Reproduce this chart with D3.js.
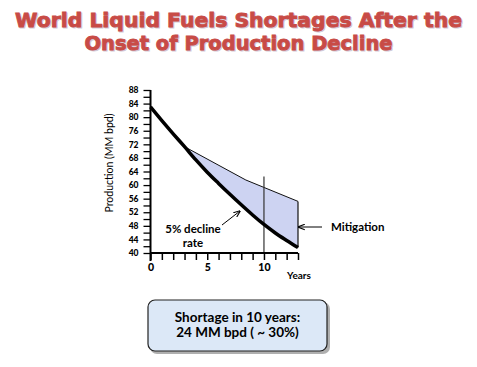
<!DOCTYPE html>
<html><head><meta charset="utf-8">
<script src="https://cdn.jsdelivr.net/npm/d3@7/dist/d3.min.js"></script>
<style>body{margin:0;background:#fff}svg{display:block}</style>
</head><body>
<script>
const titleLines = ["World Liquid Fuels Shortages After the", "Onset of Production Decline"];
const years = [0,1,2,3,4,5,6,7,8,9,10,11,12,13];
const decline = [83,79,75.1,71.3,67.4,63.8,60.5,57.3,54.2,51.2,48.4,45.9,43.7,41.6];
const mitigationYears = [3, 8.4, 13];
const mitigationVals = [71.3, 61.5, 55.2];
const yTickLabels = [40,44,48,52,56,60,64,68,72,76,80,84,88];
const xTickLabels = [0,5,10];
const boxLines = ["Shortage in 10 years:", "24 MM bpd ( ~ 30%)"];

const W=477,H=367;
const svg=d3.select("body").append("svg").attr("width",W).attr("height",H);
const x=d3.scaleLinear().domain([0,13]).range([150.5,298]);
const y=d3.scaleLinear().domain([40,88]).range([253,90]);

// title
const tY=[28,51], tLen=[447,308];
titleLines.forEach((t,i)=>{
  svg.append("text").attr("x",239.5).attr("y",tY[i]).attr("text-anchor","middle")
   .attr("font-family","DejaVu Sans").attr("font-weight","bold").attr("font-size",20)
   .attr("fill","#9a8aa8").attr("stroke","#9a8aa8").attr("stroke-width",1).attr("opacity",0.45)
   .attr("textLength",tLen[i]).attr("lengthAdjust","spacingAndGlyphs").text(t);
  svg.append("text").attr("x",238.5).attr("y",tY[i]-1).attr("text-anchor","middle")
   .attr("font-family","DejaVu Sans").attr("font-weight","bold").attr("font-size",20)
   .attr("fill","#c84b46").attr("stroke","#c84b46").attr("stroke-width",0.9)
   .attr("textLength",tLen[i]).attr("lengthAdjust","spacingAndGlyphs").text(t);
});

// shaded area between decline and mitigation
const upper=d3.scaleLinear().domain(mitigationYears).range(mitigationVals);
const areaYears=years.filter(v=>v>=3);
svg.append("path").datum(areaYears)
  .attr("d",d3.area().x(d=>x(d)).y0(d=>y(decline[years.indexOf(d)])).y1(d=>y(upper(d))))
  .attr("fill","#cdd3f2").attr("stroke","none");
// mitigation line
svg.append("path").datum(mitigationYears.map((v,i)=>[v,mitigationVals[i]]))
  .attr("d",d3.line().x(d=>x(d[0])).y(d=>y(d[1])))
  .attr("fill","none").attr("stroke","#111").attr("stroke-width",1);
// right edge
svg.append("line").attr("x1",x(13)).attr("x2",x(13)).attr("y1",y(mitigationVals[2])).attr("y2",y(decline[13]))
  .attr("stroke","#111").attr("stroke-width",1.2);
// vertical line at 10
svg.append("line").attr("x1",x(10)).attr("x2",x(10)).attr("y1",y(62.5)).attr("y2",y(40))
  .attr("stroke","#333").attr("stroke-width",1.2);
// decline curve
svg.append("path").datum(years)
  .attr("d",d3.line().x(d=>x(d)).y((d,i)=>y(decline[i])).curve(d3.curveMonotoneX))
  .attr("fill","none").attr("stroke","#000").attr("stroke-width",3.5);

// axes
const yAxis=d3.axisLeft(y).tickValues(d3.range(40,89,2)).tickSize(7)
  .tickFormat(d=>yTickLabels.includes(d)?d:"");
const ga=svg.append("g").attr("transform","translate(150.5,0)").call(yAxis);
ga.select(".domain").attr("d",`M0,${y(88)}V${y(40)+8}`).attr("stroke-width",2);
ga.selectAll(".tick line").attr("stroke-width",1.3);
ga.selectAll(".tick text").attr("font-family","Lato").attr("font-weight","900").attr("font-size",8.5).attr("x",-12);

const xAxis=d3.axisBottom(x).tickValues(years).tickSize(7)
  .tickFormat(d=>xTickLabels.includes(d)?d:"");
const gx=svg.append("g").attr("transform","translate(0,253)").call(xAxis);
gx.select(".domain").attr("d",`M${x(0)},0H${x(13)}`).attr("stroke-width",2);
gx.selectAll(".tick line").attr("stroke-width",1.5);
gx.selectAll(".tick text").attr("font-family","Lato").attr("font-weight","900").attr("font-size",10.5).attr("y",11);

svg.append("text").attr("x",299).attr("y",279).attr("text-anchor","middle")
  .attr("font-family","Lato").attr("font-weight","bold").attr("font-size",10).text("Years");
svg.append("text").attr("transform","translate(113,163) rotate(-90)").attr("text-anchor","middle")
  .attr("font-family","Lato").attr("font-size",10.5).text("Production (MM bpd)");

// annotations
svg.append("defs").append("marker").attr("id","ah").attr("viewBox","0 0 10 10").attr("refX",9).attr("refY",5)
  .attr("markerWidth",7).attr("markerHeight",7).attr("orient","auto")
  .append("path").attr("d","M0,1L10,5L0,9").attr("fill","none").attr("stroke","#000").attr("stroke-width",1.5);
svg.append("line").attr("x1",222).attr("y1",225).attr("x2",240).attr("y2",211)
  .attr("stroke","#000").attr("stroke-width",1).attr("marker-end","url(#ah)");
svg.append("text").attr("x",193).attr("y",233).attr("text-anchor","middle")
  .attr("font-family","Lato").attr("font-weight","bold").attr("font-size",11.5).text("5% decline");
svg.append("text").attr("x",193).attr("y",247).attr("text-anchor","middle")
  .attr("font-family","Lato").attr("font-weight","bold").attr("font-size",11.5).text("rate");
svg.append("line").attr("x1",322).attr("y1",227).attr("x2",298.5).attr("y2",227)
  .attr("stroke","#000").attr("stroke-width",1).attr("marker-end","url(#ah)");
svg.append("text").attr("x",331).attr("y",231)
  .attr("font-family","Lato").attr("font-weight","bold").attr("font-size",11.5).text("Mitigation");

// shortage box
svg.append("rect").attr("x",150).attr("y",302).attr("width",180).attr("height",52).attr("rx",7)
  .attr("fill","#7a7a7a").attr("opacity",0.6);
svg.append("rect").attr("x",148).attr("y",300).attr("width",179).attr("height",51).attr("rx",7)
  .attr("fill","#dce8f7").attr("stroke","#222").attr("stroke-width",1.2);
boxLines.forEach((t,i)=>svg.append("text").attr("x",237.5).attr("y",322+i*15).attr("text-anchor","middle")
  .attr("font-family","Lato").attr("font-weight","bold").attr("font-size",13.5).text(t));
</script>
</body></html>
